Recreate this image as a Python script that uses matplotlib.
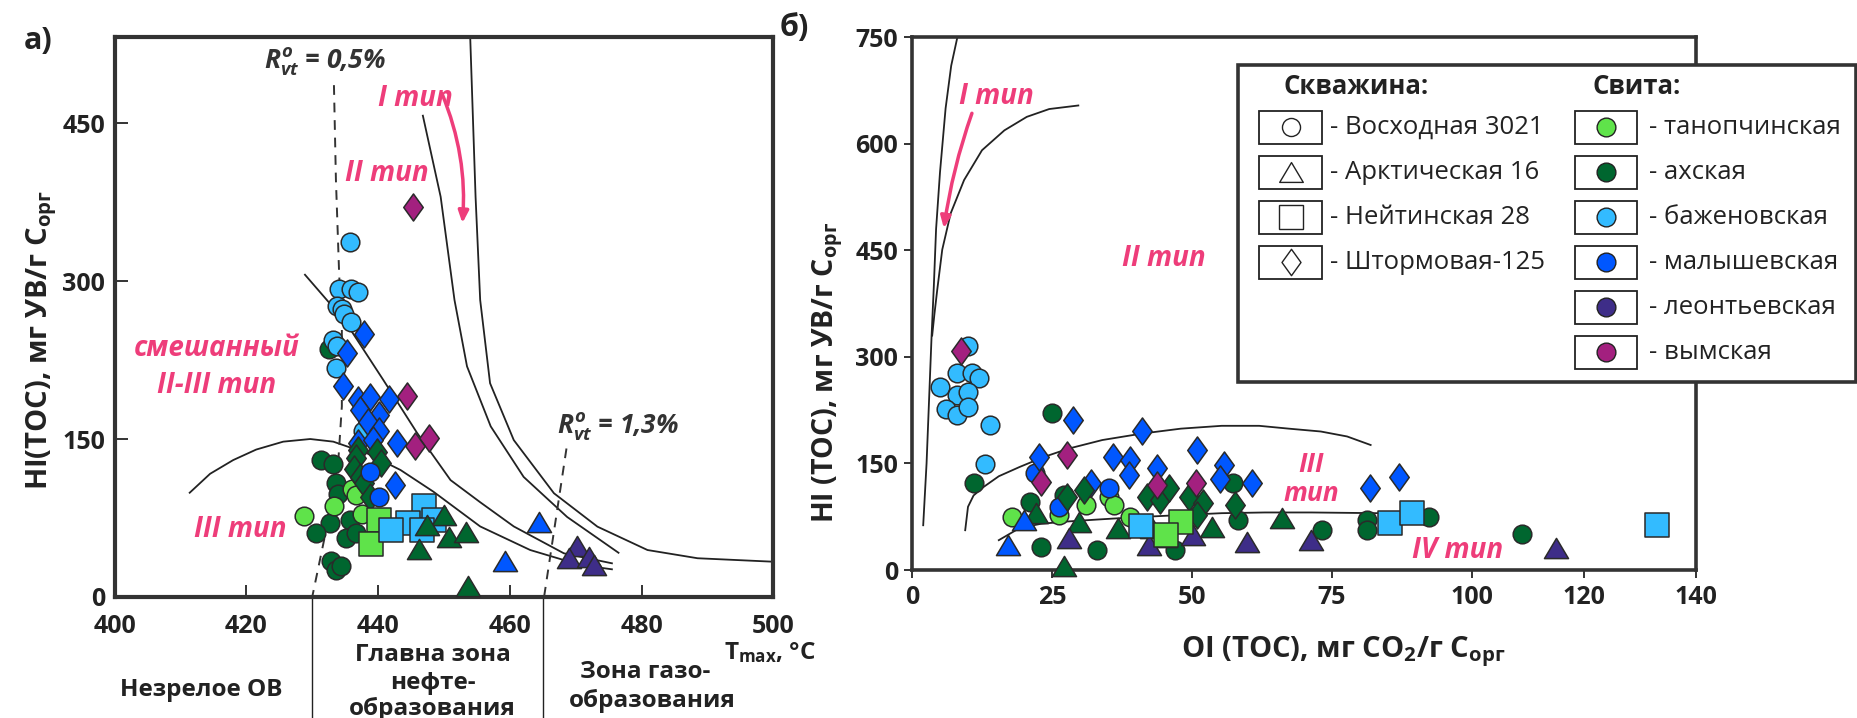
import matplotlib
matplotlib.use("Agg")
import matplotlib.pyplot as plt
from matplotlib.path import Path
from matplotlib.lines import Line2D
from matplotlib.patches import Rectangle

plt.rcParams['font.family'] = ['Open Sans', 'DejaVu Sans']
plt.rcParams['mathtext.fontset'] = 'custom'
plt.rcParams['mathtext.rm'] = 'Open Sans:bold'
plt.rcParams['mathtext.bf'] = 'Open Sans:bold'
plt.rcParams['mathtext.it'] = 'Open Sans:italic:bold'

# ---------------- DATA ----------------
# colours of formations (свита)
C_TANOP = '#5FE34A'
C_AKH = '#00662F'
C_BAZH = '#33BBFF'
C_MALYSH = '#0057FF'
C_LEONT = '#3E2D88'
C_VYM = '#A3207F'
PINK = '#EE3D7A'

# ---- panel a): Tmax (°C) vs HI ----
# Восходная 3021 (circles)
a_vos_bazh_t = [435.8, 434.1, 435.9, 436.9, 433.8, 434.5, 434.8, 435.9, 433.1, 433.8, 433.6, 437.7]
a_vos_bazh_hi = [337, 292, 292, 290, 276, 273, 269, 261, 244, 238, 217, 158]
a_vos_akh_t = [432.6, 431.4, 433.2, 433.6, 433.9, 432.7, 435.7, 430.6, 435.1, 436.6, 432.9, 433.6, 434.4]
a_vos_akh_hi = [235, 130, 126, 108, 98, 70, 73, 61, 56, 61, 34, 26, 29]
a_vos_tanop_t = [436.0, 436.6, 433.3, 428.8, 437.5]
a_vos_tanop_hi = [103, 97, 86, 77, 79]
a_vos_malysh_t = [438.7, 440.2]
a_vos_malysh_hi = [119, 95]
# Штормовая-125 (diamonds)
a_sht_malysh_t = [437.9, 435.3, 434.6, 436.9, 438.8, 441.6, 437.3, 440.1, 438.4, 440.2, 436.9, 439.3, 442.9, 442.5]
a_sht_malysh_hi = [250, 232, 200, 187, 190, 188, 178, 173, 166, 158, 146, 149, 146, 106]
a_sht_vym_t = [445.3, 444.4, 447.7, 445.6]
a_sht_vym_hi = [370, 191, 151, 143]
a_sht_akh_t = [436.9, 439.9, 436.6, 440.5, 436.3, 437.2, 437.8, 438.7]
a_sht_akh_hi = [140, 138, 132, 127, 122, 114, 108, 95]
# Нейтинская 28 (squares)
a_nei_tanop_t = [440.2, 439.0]
a_nei_tanop_hi = [73, 50]
a_nei_bazh_t = [446.9, 444.6, 448.5, 441.9, 446.7]
a_nei_bazh_hi = [86, 70, 73, 64, 64]
# Арктическая 16 (triangles)
a_ark_akh_t = [450.0, 447.4, 450.7, 453.3, 446.2, 453.6]
a_ark_akh_hi = [78, 68, 57, 62, 46, 10]
a_ark_malysh_t = [464.4, 459.3]
a_ark_malysh_hi = [71, 34]
a_ark_leont_t = [470.2, 469.0, 472.0, 472.8]
a_ark_leont_hi = [48, 37, 38, 30]

# boundary curves, panel a)
a_curveA_t = [454.0, 454.8, 455.5, 457.0, 460.6, 466.7, 473.3, 480.9, 488.5, 500.0]
a_curveA_hi = [529, 380, 282, 203, 149, 98.5, 66.8, 44.6, 36.8, 33.5]
a_curveB_t = [446.8, 449.5, 451.6, 453.5, 457.1, 462.1, 468.7, 476.5]
a_curveB_hi = [457, 380, 282, 219, 162, 114, 76, 42]
a_curveC_t = [428.9, 432.5, 435.8, 440.8, 445.9, 451.0, 455.5, 460.6, 468.2, 475.5]
a_curveC_hi = [306, 280, 254, 206, 156, 111, 90, 67, 41.5, 32]
a_curveD_t = [411.4, 414.5, 418.0, 421.5, 425.6, 429.7, 433.2, 438.3, 443.4, 448.4, 455.5, 463.1, 470.7, 475.5]
a_curveD_hi = [99, 117, 130, 140, 147.5, 150, 147.5, 136.5, 120.6, 100, 67, 44.6, 30.4, 26.3]
a_ro05_t = [433.3, 433.6, 434.1, 434.5, 434.5, 434.0, 433.0, 431.8, 430.0]
a_ro05_hi = [486, 396, 305, 257, 181, 133, 95, 54, 0]
a_ro13_t = [468.6, 465.2]
a_ro13_hi = [141, 0]
a_zone_bounds = [430, 465]

# ---- panel б): OI vs HI ----
b_vos_bazh_oi = [10, 8, 10.8, 11.9, 5, 8, 10, 6, 8, 10, 14, 13]
b_vos_bazh_hi = [316, 277, 277, 271, 258, 246, 251, 227, 218, 230, 204, 149]
b_vos_akh_oi = [25, 11.1, 21, 23, 33.1, 47, 27.1, 57.3, 58.2, 73.3, 81.2, 81.2, 92.3, 109]
b_vos_akh_hi = [221, 123, 96, 33, 28, 28, 105, 122, 70, 57, 70, 57, 74, 50]
b_vos_tanop_oi = [17.9, 26.2, 31.1, 35.1, 36.1, 39.0]
b_vos_tanop_hi = [75, 77, 91, 103, 91, 74]
b_vos_malysh_oi = [21.9, 26.2, 35.1]
b_vos_malysh_hi = [136, 89, 115]
b_sht_malysh_oi = [28.8, 41, 22.7, 35.9, 38.9, 38.7, 43.8, 50.9, 55.8, 55, 60.7, 31.9, 81.7, 86.9]
b_sht_malysh_hi = [211, 195, 159, 159, 155, 134, 143, 169, 148, 128, 122, 122, 115, 131]
b_sht_vym_oi = [8.7, 27.6, 23.1, 43.8, 50.7]
b_sht_vym_hi = [309, 162, 124, 120, 122]
b_sht_akh_oi = [27.6, 30.8, 41.9, 44.3, 45.9, 49.5, 52, 50.9, 57.7]
b_sht_akh_hi = [103, 113, 103, 98, 115, 103, 94, 77, 91]
b_ark_akh_oi = [22.2, 29.9, 36.7, 42.9, 45.1, 53.5, 66.1, 27.1]
b_ark_akh_hi = [80, 68, 59, 59, 47, 61, 73, 5]
b_ark_malysh_oi = [20, 17.1]
b_ark_malysh_hi = [70, 35]
b_ark_leont_oi = [28, 42.3, 50.1, 59.9, 71.3, 115]
b_ark_leont_hi = [45, 35, 49, 40, 42, 31]
b_nei_tanop_oi = [48.1, 45.3]
b_nei_tanop_hi = [68, 49]
b_nei_bazh_oi = [40.9, 85.3, 89.3, 133]
b_nei_bazh_hi = [62, 66, 80, 64]

b_curveI_oi = [2.0, 2.6, 3.1, 3.5, 3.9, 4.3, 5.0, 6.0, 7.0, 8.1]
b_curveI_hi = [63, 150, 250, 330, 400, 480, 560, 650, 710, 750]
b_curveII_oi = [3.6, 4.0, 4.5, 5.4, 6.9, 9.3, 12.5, 16.5, 20.5, 24.5, 29.7]
b_curveII_hi = [330, 360, 394, 451, 502, 549, 591, 619, 638, 649, 654]
b_curveIII_oi = [9.5, 10.0, 11.0, 12.8, 15.5, 19.2, 23.5, 28.0, 34.0, 41.0, 48.0, 55.3, 62.0, 67.3, 73.0, 77.7, 81.9]
b_curveIII_hi = [56, 89, 105, 117, 132, 145, 159, 171, 183, 192, 199, 203, 203, 199, 195, 188, 176]
b_curveIV_oi = [15.5, 19.2, 23.0, 27.2, 33.0, 39.3, 47.0, 55.3, 63.0, 71.3, 83.3]
b_curveIV_hi = [42, 59, 65, 68, 71, 74, 77, 80, 81, 81, 80]

legend_wells = ['- Восходная 3021', '- Арктическая 16', '- Нейтинская 28', '- Штормовая-125']
legend_forms = ['- танопчинская', '- ахская', '- баженовская', '- малышевская', '- леонтьевская', '- вымская']
legend_form_colors = [C_TANOP, C_AKH, C_BAZH, C_MALYSH, C_LEONT, C_VYM]

# ---------------- FIGURE ----------------
W, H = 1858, 718
fig = plt.figure(figsize=(W / 100, H / 100), dpi=100)
fig.patch.set_facecolor('white')

def fx(px):
    return px / W

def fy(py):
    return 1 - py / H

TRI = Path([(0, 0.84), (-1, -0.84), (1, -0.84), (0, 0.84)], closed=True)
DIA = Path([(0, 1), (0.72, 0), (0, -1), (-0.72, 0), (0, 1)], closed=True)
EDGE = '#2a2a2a'
SIZES = {'o': 180, 's': 280, 'tri': 300, 'dia': 380}
MK = {'o': 'o', 's': 's', 'tri': TRI, 'dia': DIA}

def pts(ax, x, y, kind, color, z=3):
    ax.scatter(x, y, s=SIZES[kind], marker=MK[kind], c=color, edgecolors=EDGE,
               linewidths=1.1, zorder=z, clip_on=False)

LINE = '#222222'
DGRAY = '#333333'

# ---------- panel a ----------
axA = fig.add_axes([fx(114.6), fy(597), fx(773.3) - fx(114.6), fy(36.7) - fy(597)])
axA.set_xlim(400, 500)
axA.set_ylim(0, 532)
axA.set_xticks([400, 420, 440, 460, 480, 500])
axA.set_yticks([0, 150, 300, 450])
axA.tick_params(direction='in', length=9, width=1.4, colors=DGRAY, labelsize=18)
axA.tick_params(axis='x', pad=12)
axA.tick_params(axis='y', pad=7)
for lab in axA.get_xticklabels() + axA.get_yticklabels():
    lab.set_fontweight('bold')
    lab.set_color('#222222')
for sp in axA.spines.values():
    sp.set_linewidth(3.0)
    sp.set_color(DGRAY)

for xs, ys in [(a_curveA_t, a_curveA_hi), (a_curveB_t, a_curveB_hi),
               (a_curveC_t, a_curveC_hi), (a_curveD_t, a_curveD_hi)]:
    axA.plot(xs, ys, color=LINE, lw=1.3, zorder=2)
axA.plot(a_ro05_t, a_ro05_hi, color=DGRAY, lw=1.4, ls=(0, (5, 4)), zorder=2)
axA.plot(a_ro13_t, a_ro13_hi, color=DGRAY, lw=1.4, ls=(0, (5, 4)), zorder=2)
for xb in a_zone_bounds:
    axA.plot([xb, xb], [0, -135], color=LINE, lw=1.0, clip_on=False, zorder=2)

pts(axA, a_vos_akh_t, a_vos_akh_hi, 'o', C_AKH)
pts(axA, a_vos_tanop_t, a_vos_tanop_hi, 'o', C_TANOP)
pts(axA, a_vos_bazh_t, a_vos_bazh_hi, 'o', C_BAZH)
pts(axA, a_sht_malysh_t, a_sht_malysh_hi, 'dia', C_MALYSH)
pts(axA, a_sht_vym_t, a_sht_vym_hi, 'dia', C_VYM)
pts(axA, a_sht_akh_t, a_sht_akh_hi, 'dia', C_AKH)
pts(axA, a_vos_malysh_t, a_vos_malysh_hi, 'o', C_MALYSH)
pts(axA, a_nei_tanop_t, a_nei_tanop_hi, 's', C_TANOP)
pts(axA, a_nei_bazh_t, a_nei_bazh_hi, 's', C_BAZH)
pts(axA, a_ark_akh_t, a_ark_akh_hi, 'tri', C_AKH)
pts(axA, a_ark_malysh_t, a_ark_malysh_hi, 'tri', C_MALYSH)
pts(axA, a_ark_leont_t, a_ark_leont_hi, 'tri', C_LEONT)

pk = dict(color=PINK, fontsize=20, fontweight='bold', fontstyle='italic', ha='center', va='center')
axA.text(445.6, 473, 'I тип', **pk)
axA.text(441.3, 402, 'II тип', **pk)
axA.text(415.5, 236, 'смешанный', **pk)
axA.text(415.5, 201, 'II-III тип', **pk)
axA.text(419.0, 64, 'III тип', **pk)
axA.annotate('', xy=(452.8, 355), xytext=(449.7, 478),
             arrowprops=dict(arrowstyle='-|>,head_length=0.7,head_width=0.3', color=PINK, lw=2.5,
                             connectionstyle='arc3,rad=-0.12', shrinkA=0, shrinkB=0))
rk = dict(color=DGRAY, fontsize=19, fontweight='bold', fontstyle='italic', va='center')
axA.text(422.7, 508, r'$R^{o}_{vt}$ = 0,5%', ha='left', **rk)
axA.text(467.2, 162, r'$R^{o}_{vt}$ = 1,3%', ha='left', **rk)

zk = dict(color='#222222', fontsize=17.5, fontweight='bold', ha='center', va='center', clip_on=False)
axA.text(413.1, -88, 'Незрелое ОВ', **zk)
axA.text(448.3, -55, 'Главна зона', **zk)
axA.text(448.3, -82, 'нефте-', **zk)
axA.text(448.3, -106, 'образования', **zk)
axA.text(480.5, -71, 'Зона газо-', **zk)
axA.text(481.6, -99, 'образования', **zk)
axA.text(499.5, -53, r'T$_{\mathrm{max}}$, °C', color='#222222', fontsize=17.5, fontweight='bold',
         ha='center', va='center', clip_on=False)

fig.text(fx(42), fy(340), r'HI(TOC), мг УВ/г C$_{\mathrm{орг}}$', rotation=90, ha='center', va='center',
         fontsize=21, fontweight='bold', color='#222222')
fig.text(fx(24), fy(41), 'а)', ha='left', va='center', fontsize=22, fontweight='bold', color='#222222')

# ---------- panel б ----------
axB = fig.add_axes([fx(912), fy(570), fx(1696) - fx(912), fy(37.3) - fy(570)])
axB.set_xlim(0, 140)
axB.set_ylim(0, 750)
axB.set_xticks([0, 25, 50, 75, 100, 120, 140])
axB.set_yticks([0, 150, 300, 450, 600, 750])
axB.tick_params(direction='out', length=6, width=1.4, colors=DGRAY, labelsize=18)
axB.tick_params(axis='x', pad=5)
axB.tick_params(axis='y', pad=4)
for lab in axB.get_xticklabels() + axB.get_yticklabels():
    lab.set_fontweight('bold')
    lab.set_color('#222222')
for sp in axB.spines.values():
    sp.set_linewidth(2.6)
    sp.set_color(DGRAY)

for xs, ys in [(b_curveI_oi, b_curveI_hi), (b_curveII_oi, b_curveII_hi),
               (b_curveIII_oi, b_curveIII_hi), (b_curveIV_oi, b_curveIV_hi)]:
    axB.plot(xs, ys, color=LINE, lw=1.3, zorder=2)

pts(axB, b_vos_akh_oi, b_vos_akh_hi, 'o', C_AKH)
pts(axB, b_vos_tanop_oi, b_vos_tanop_hi, 'o', C_TANOP)
pts(axB, b_vos_bazh_oi, b_vos_bazh_hi, 'o', C_BAZH)
pts(axB, b_vos_malysh_oi, b_vos_malysh_hi, 'o', C_MALYSH)
pts(axB, b_sht_malysh_oi, b_sht_malysh_hi, 'dia', C_MALYSH)
pts(axB, b_sht_akh_oi, b_sht_akh_hi, 'dia', C_AKH)
pts(axB, b_sht_vym_oi, b_sht_vym_hi, 'dia', C_VYM)
pts(axB, b_ark_akh_oi, b_ark_akh_hi, 'tri', C_AKH)
pts(axB, b_ark_malysh_oi, b_ark_malysh_hi, 'tri', C_MALYSH)
pts(axB, b_ark_leont_oi, b_ark_leont_hi, 'tri', C_LEONT)
pts(axB, b_nei_tanop_oi, b_nei_tanop_hi, 's', C_TANOP)
pts(axB, b_nei_bazh_oi, b_nei_bazh_hi, 's', C_BAZH)

axB.text(15, 667, 'I тип', **pk)
axB.text(45, 439, 'II тип', **pk)
pk2 = dict(pk)
pk2['fontsize'] = 19
axB.text(71.3, 149, 'III', **pk2)
axB.text(71.3, 108, 'тип', **pk2)
axB.text(97.4, 28, 'IV тип', **pk)
axB.annotate('', xy=(5.7, 481), xytext=(10.7, 643),
             arrowprops=dict(arrowstyle='-|>,head_length=0.7,head_width=0.3', color=PINK, lw=2.5,
                             connectionstyle='arc3,rad=0.05', shrinkA=0, shrinkB=0))

fig.text(fx(828), fy(372), r'HI (TOC), мг УВ/г C$_{\mathrm{орг}}$', rotation=90, ha='center', va='center',
         fontsize=20.5, fontweight='bold', color='#222222')
fig.text(fx(1343), fy(652), r'OI (TOC), мг CO$_{2}$/г C$_{\mathrm{орг}}$', ha='center', va='center',
         fontsize=21, fontweight='bold', color='#222222')
fig.text(fx(794), fy(28), 'б)', ha='center', va='center', fontsize=22, fontweight='bold', color='#222222')

# ---------- legend ----------
fig.add_artist(Rectangle((fx(1238), fy(382)), fx(1856) - fx(1238), fy(65) - fy(382),
                         transform=fig.transFigure, facecolor='white', edgecolor=DGRAY,
                         linewidth=2.6, zorder=5))
fig.text(fx(1356), fy(87), 'Скважина:', ha='center', va='center', fontsize=18.5,
         fontweight='bold', color='#222222', zorder=6)
fig.text(fx(1637), fy(87), 'Свита:', ha='center', va='center', fontsize=18.5,
         fontweight='bold', color='#222222', zorder=6)

row_y = [127, 172.3, 217.3, 262.3, 307.3, 352.3]
bh = 33
well_markers = [('o', 13), (TRI, 17), ('s', 17), (DIA, 19)]
for i, lab in enumerate(legend_wells):
    yy = row_y[i]
    fig.add_artist(Rectangle((fx(1259), fy(yy + bh / 2)), fx(1322) - fx(1259), bh / H,
                             transform=fig.transFigure, facecolor='white', edgecolor='#222222',
                             linewidth=1.3, zorder=6))
    m, ms = well_markers[i]
    fig.add_artist(Line2D([fx(1290.5)], [fy(yy)], transform=fig.transFigure, marker=m,
                          markersize=ms, markerfacecolor='white', markeredgecolor='#222222',
                          markeredgewidth=1.0, linestyle='none', zorder=7))
    fig.text(fx(1330), fy(yy), lab, ha='left', va='center', fontsize=18.5, color='#222222', zorder=7)

for i, lab in enumerate(legend_forms):
    yy = row_y[i]
    fig.add_artist(Rectangle((fx(1575), fy(yy + bh / 2)), fx(1637) - fx(1575), bh / H,
                             transform=fig.transFigure, facecolor='white', edgecolor='#222222',
                             linewidth=1.3, zorder=6))
    fig.add_artist(Line2D([fx(1606)], [fy(yy)], transform=fig.transFigure, marker='o',
                          markersize=13.5, markerfacecolor=legend_form_colors[i],
                          markeredgecolor='#222222', markeredgewidth=1.0, linestyle='none', zorder=7))
    fig.text(fx(1649), fy(yy), lab, ha='left', va='center', fontsize=18.5, color='#222222', zorder=7)

fig.savefig('out.png', dpi=100, facecolor='white')
